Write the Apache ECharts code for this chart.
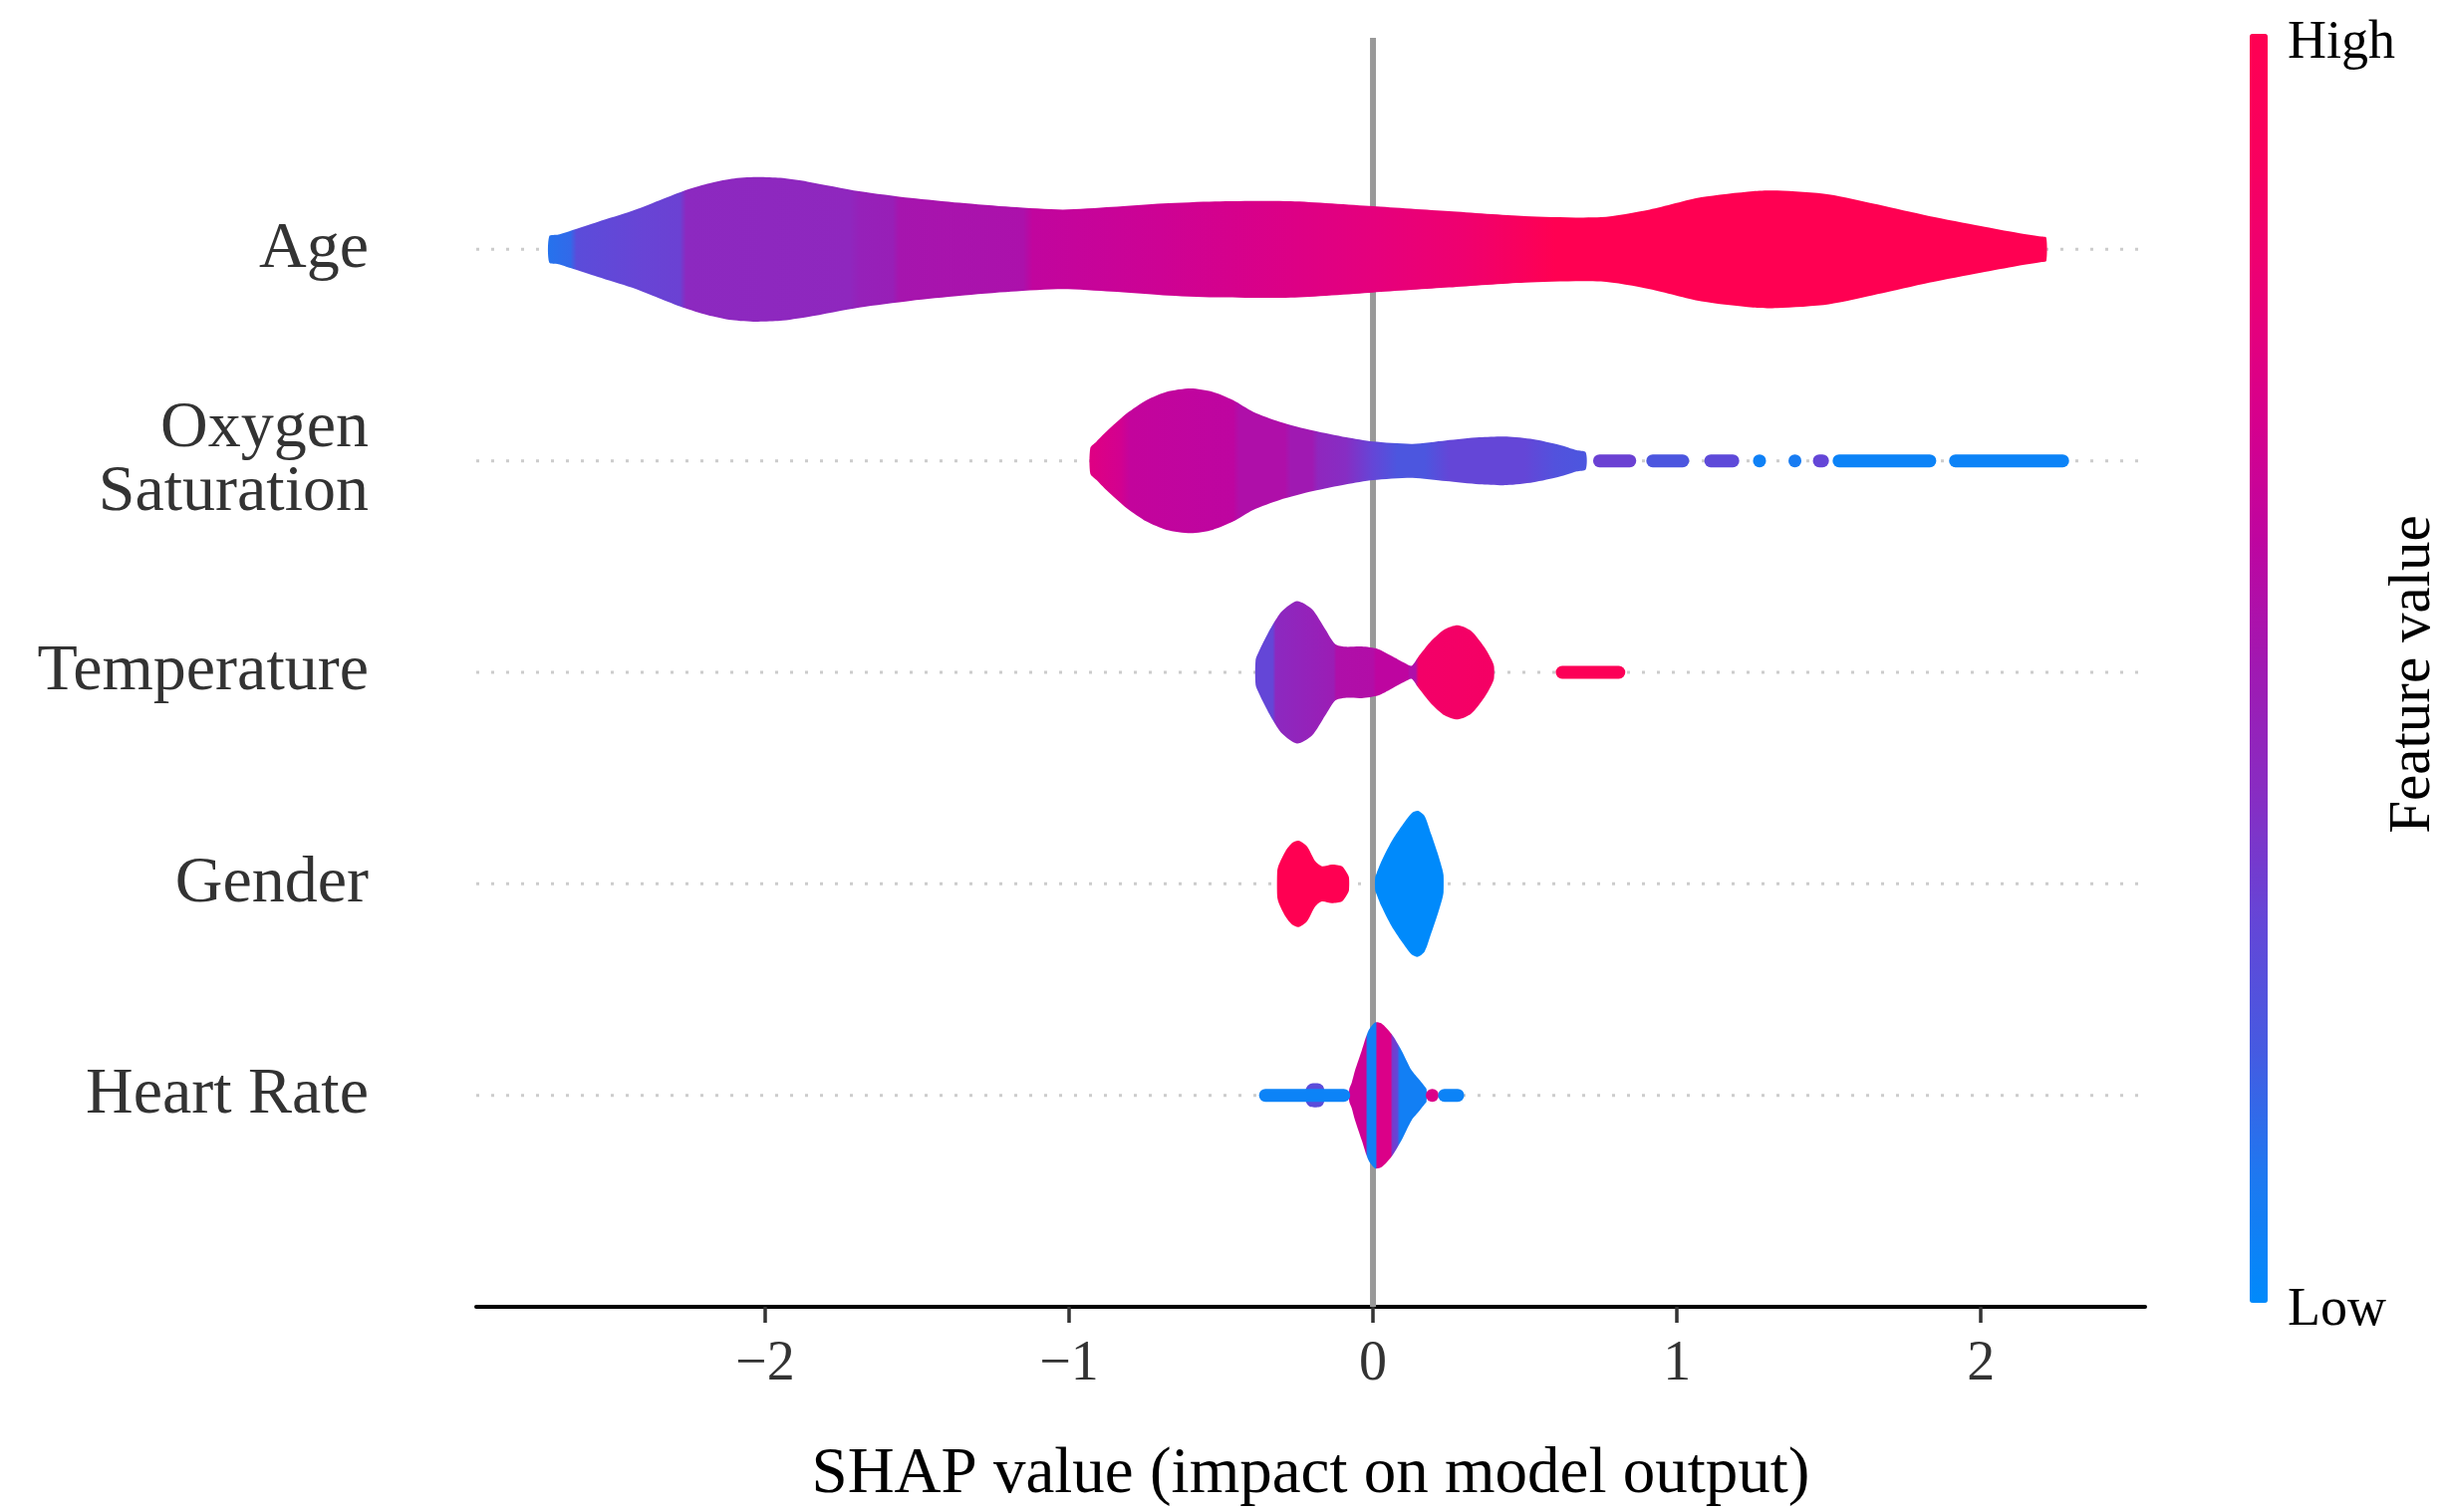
<!DOCTYPE html>
<html>
<head>
<meta charset="utf-8">
<script src="https://cdn.jsdelivr.net/npm/echarts/dist/echarts.min.js"></script>
<style>
  html, body { margin: 0; padding: 0; background: #ffffff; }
  #chart { width: 2455px; height: 1518px; }
</style>
</head>
<body>
<div id="chart"></div>
<script>
// ---------------- data ----------------
// features, bottom (row 0) to top (row 4)
const featureNames = ['Heart Rate', 'Gender', 'Temperature', 'Oxygen\nSaturation', 'Age'];
const xTicks = [-2, -1, 0, 1, 2];
const xMin = -2.95, xMax = 2.54;

// colour scale (feature value low -> high)
const colorStops = ['#008afb', '#1e78f0', '#465ae1', '#6446d7', '#872dc3', '#a019b2',
                    '#be05a0', '#d7008c', '#eb0076', '#f8005f', '#ff0052'];

// Age (row 4): SHAP values, violin half-widths, colour samples
const ageX = [-2.71, -2.68, -2.64, -2.55, -2.44, -2.35, -2.27, -2.19, -2.11, -2.03, -1.95, -1.86, -1.69,
              -1.52, -1.36, -1.19, -1.02, -0.86, -0.69, -0.52, -0.27, 0, 0.25, 0.5, 0.75, 0.91, 1.08,
              1.25, 1.33, 1.5, 1.66, 1.83, 2.0, 2.12, 2.2, 2.215];
const ageW = [0.062, 0.07, 0.088, 0.13, 0.18, 0.23, 0.275, 0.31, 0.334, 0.342, 0.338, 0.32, 0.275,
              0.243, 0.22, 0.2, 0.188, 0.2, 0.217, 0.227, 0.228, 0.204, 0.18, 0.157, 0.152, 0.188, 0.246,
              0.275, 0.278, 0.26, 0.212, 0.157, 0.11, 0.078, 0.06, 0.055];
const ageCX = [-2.71, -2.64, -2.62, -2.40, -2.28, -2.26, -1.72, -1.69, -1.58, -1.56, -1.15, -1.12,
               -0.70, -0.25, 0, 0.3, 0.5, 0.6, 2.22];
const ageCV = [0.12, 0.15, 0.27, 0.31, 0.32, 0.42, 0.43, 0.46, 0.47, 0.52, 0.54, 0.61,
               0.66, 0.73, 0.77, 0.83, 0.92, 1.0, 1.0];

// Oxygen Saturation (row 3)
const oxyX = [-0.93, -0.91, -0.877, -0.81, -0.745, -0.68, -0.60, -0.527, -0.46, -0.394, -0.307, -0.197,
              -0.088, 0, 0.13, 0.24, 0.35, 0.44, 0.527, 0.614, 0.67, 0.70];
const oxyW = [0.06, 0.09, 0.138, 0.224, 0.287, 0.326, 0.342, 0.326, 0.287, 0.232, 0.185, 0.143,
              0.111, 0.091, 0.08, 0.096, 0.111, 0.115, 0.102, 0.075, 0.05, 0.04];
const oxyCX = [-0.93, -0.83, -0.80, -0.46, -0.44, -0.29, -0.27, -0.20, -0.18, -0.09, 0, 0.08, 0.17,
               0.25, 0.5, 0.6, 0.70];
const oxyCV = [0.74, 0.68, 0.62, 0.6, 0.55, 0.55, 0.5, 0.5, 0.43, 0.4, 0.3, 0.22, 0.22,
               0.3, 0.3, 0.24, 0.22];
// sparse points drawn as dot runs: [start, end, colour value]
const oxyTail = [[0.724, 0.866, 0.32], [0.899, 1.04, 0.22], [1.09, 1.205, 0.28], [1.25, 1.293, 0.05],
                 [1.376, 1.40, 0.08], [1.447, 1.50, 0.3], [1.512, 1.853, 0.04], [1.895, 2.29, 0.04]];

// Temperature (row 2)
const tempX = [-0.386, -0.375, -0.364, -0.332, -0.299, -0.25, -0.20, -0.157, -0.124, -0.092, -0.037,
               0.017, 0.061, 0.105, 0.127, 0.148, 0.192, 0.236, 0.279, 0.323, 0.367, 0.39, 0.398];
const tempW = [0.06, 0.1, 0.133, 0.22, 0.29, 0.337, 0.298, 0.204, 0.133, 0.121, 0.122,
               0.11, 0.078, 0.044, 0.031, 0.071, 0.149, 0.204, 0.223, 0.196, 0.118, 0.06, 0.03];
const tempCX = [-0.386, -0.33, -0.32, -0.13, -0.12, 0.0, 0.01, 0.115, 0.12, 0.14, 0.15, 0.40];
const tempCV = [0.3, 0.3, 0.42, 0.48, 0.55, 0.56, 0.6, 0.6, 0.55, 0.55, 0.86, 0.88];
const tempTail = [[0.601, 0.830, 0.96]];

// Gender (row 1): two separate groups
const genRX = [-0.315, -0.31, -0.288, -0.266, -0.245, -0.217, -0.19, -0.168, -0.135, -0.102, -0.085, -0.079];
const genRW = [0.06, 0.09, 0.154, 0.193, 0.204, 0.177, 0.107, 0.083, 0.091, 0.083, 0.05, 0.03];
const genRCX = [-0.315, -0.079];
const genRCV = [1.0, 1.0];
const genBX = [0.007, 0.012, 0.028, 0.061, 0.094, 0.127, 0.148, 0.17, 0.192, 0.214, 0.228, 0.232];
const genBW = [0.03, 0.05, 0.107, 0.2, 0.272, 0.334, 0.345, 0.32, 0.232, 0.138, 0.07, 0.04];
const genBCX = [0.007, 0.232];
const genBCV = [0.0, 0.0];

// Heart Rate (row 0)
const hrX = [-0.078, -0.07, -0.059, -0.037, -0.015, 0.007, 0.028, 0.061, 0.094, 0.127, 0.154, 0.17, 0.176];
const hrW = [0.03, 0.06, 0.118, 0.212, 0.306, 0.345, 0.34, 0.29, 0.212, 0.118, 0.071, 0.042, 0.03];
const hrCX = [-0.078, -0.024, -0.018, 0.008, 0.014, 0.058, 0.064, 0.08, 0.088, 0.176];
const hrCV = [0.66, 0.66, 0.06, 0.06, 0.72, 0.72, 0.35, 0.3, 0.06, 0.06];
const hrBlobX = [-0.222, -0.215, -0.205, -0.19, -0.175, -0.165, -0.16];
const hrBlobW = [0.025, 0.045, 0.055, 0.057, 0.055, 0.045, 0.025];
const hrBlobCX = [-0.222, -0.16];
const hrBlobCV = [0.27, 0.27];
const hrTail = [[-0.375, -0.075, 0.04], [0.176, 0.214, 0.72], [0.214, 0.30, 0.04]];

// ---------------- build ----------------
const violins = [
  { row: 4, x: ageX, w: ageW, cx: ageCX, cv: ageCV },
  { row: 3, x: oxyX, w: oxyW, cx: oxyCX, cv: oxyCV },
  { row: 2, x: tempX, w: tempW, cx: tempCX, cv: tempCV },
  { row: 1, x: genRX, w: genRW, cx: genRCX, cv: genRCV },
  { row: 1, x: genBX, w: genBW, cx: genBCX, cv: genBCV },
  { row: 0, x: hrX, w: hrW, cx: hrCX, cv: hrCV },
  { row: 0, x: hrBlobX, w: hrBlobW, cx: hrBlobCX, cv: hrBlobCV }
];
const tails = [];
oxyTail.forEach(t => tails.push([t[0], t[1], 3, t[2]]));
tempTail.forEach(t => tails.push([t[0], t[1], 2, t[2]]));
hrTail.forEach(t => tails.push([t[0], t[1], 0, t[2]]));

function hexToRgb(h) {
  return [parseInt(h.slice(1, 3), 16), parseInt(h.slice(3, 5), 16), parseInt(h.slice(5, 7), 16)];
}
const stopRgb = colorStops.map(hexToRgb);
function colorFor(v) {
  v = Math.max(0, Math.min(1, v));
  const p = v * (stopRgb.length - 1);
  const i = Math.min(Math.floor(p), stopRgb.length - 2);
  const f = p - i;
  const a = stopRgb[i], b = stopRgb[i + 1];
  const c = [0, 1, 2].map(k => Math.round(a[k] + (b[k] - a[k]) * f));
  return 'rgb(' + c.join(',') + ')';
}

const FONT = '"Liberation Serif", "DejaVu Serif", serif';
const TAIL_W = 13;

function renderViolin(params, api) {
  const comp = violins[api.value(2)];
  const top = [], bot = [];
  for (let i = 0; i < comp.x.length; i++) {
    top.push(api.coord([comp.x[i], comp.row + comp.w[i]]));
    bot.push(api.coord([comp.x[i], comp.row - comp.w[i]]));
  }
  const points = top.concat(bot.reverse());
  const p0 = api.coord([comp.cx[0], comp.row])[0];
  const p1 = api.coord([comp.cx[comp.cx.length - 1], comp.row])[0];
  const span = Math.max(1e-6, p1 - p0);
  const stops = comp.cx.map((x, i) => ({
    offset: Math.max(0, Math.min(1, (api.coord([x, comp.row])[0] - p0) / span)),
    color: colorFor(comp.cv[i])
  }));
  return {
    type: 'polygon',
    shape: { points: points, smooth: 0.25 },
    style: { fill: new echarts.graphic.LinearGradient(p0, 0, p1, 0, stops, true), stroke: null }
  };
}

function renderTail(params, api) {
  const a = api.coord([api.value(0), api.value(2)]);
  const b = api.coord([api.value(1), api.value(2)]);
  const r = TAIL_W / 2;
  let x1 = a[0] + r, x2 = b[0] - r;
  if (x2 <= x1) { const m = (a[0] + b[0]) / 2; x1 = m - 0.01; x2 = m + 0.01; }
  return {
    type: 'line',
    shape: { x1: x1, y1: a[1], x2: x2, y2: a[1] },
    style: { stroke: colorFor(api.value(3)), lineWidth: TAIL_W, lineCap: 'round' }
  };
}

function renderGuide(params, api) {
  const row = api.value(1);
  const a = api.coord([xMin, row]);
  const b = api.coord([xMax, row]);
  return {
    type: 'line',
    shape: { x1: a[0], y1: a[1], x2: b[0], y2: b[1] },
    style: { stroke: '#cccccc', lineWidth: 3, lineDash: [3, 12] }
  };
}

function renderZero(params, api) {
  const a = api.coord([0, -1]);
  const b = api.coord([0, 5]);
  return {
    type: 'line',
    shape: { x1: a[0], y1: a[1], x2: b[0], y2: b[1] },
    style: { stroke: '#999999', lineWidth: 6 }
  };
}

const chart = echarts.init(document.getElementById('chart'), null, { renderer: 'canvas' });
chart.setOption({
  animation: false,
  backgroundColor: '#ffffff',
  grid: { left: 478, right: 302, top: 38, bottom: 206, containLabel: false },
  xAxis: {
    type: 'value', min: xMin, max: xMax,
    axisLine: { show: true, onZero: false, lineStyle: { color: '#000000', width: 4 } },
    axisTick: { show: true, customValues: xTicks, length: 16, lineStyle: { color: '#333333', width: 3.5 } },
    axisLabel: {
      customValues: xTicks, margin: 30, color: '#333333', fontFamily: FONT, fontSize: 56,
      formatter: v => String(v).replace('-', '\u2212')
    },
    splitLine: { show: false },
    name: 'SHAP value (impact on model output)',
    nameLocation: 'middle', nameGap: 136,
    nameTextStyle: { color: '#000000', fontFamily: FONT, fontSize: 65 }
  },
  yAxis: {
    type: 'value', min: -1, max: 5, interval: 1,
    axisLine: { show: false }, axisTick: { show: false }, splitLine: { show: false },
    axisLabel: {
      margin: 108, color: '#333333', fontFamily: FONT, fontSize: 66, lineHeight: 64,
      padding: [8, 0, 0, 0],
      formatter: v => (v >= 0 && v < featureNames.length) ? featureNames[v] : ''
    }
  },
  visualMap: {
    type: 'continuous', min: 0, max: 1, orient: 'vertical',
    left: 2258, top: 34, itemWidth: 18, itemHeight: 1274, padding: 0,
    calculable: false, hoverLink: false, seriesIndex: 4, dimension: 0,
    inRange: { color: colorStops }
  },
  graphic: [
    { type: 'text', left: 2296, top: 17, style: { text: 'High', fill: '#000', font: '54px ' + FONT } },
    { type: 'text', left: 2296, top: 1289, style: { text: 'Low', fill: '#000', font: '54px ' + FONT } },
    { type: 'text', x: 2422, y: 677, rotation: Math.PI / 2,
      style: { text: 'Feature value', fill: '#000', font: '59px ' + FONT, align: 'center', verticalAlign: 'middle' } }
  ],
  series: [
    { type: 'custom', name: 'guides', z: 1, silent: true, renderItem: renderGuide,
      data: featureNames.map((n, i) => [xMin, i]), encode: { x: 0, y: 1 } },
    { type: 'custom', name: 'zero', z: 1, silent: true, renderItem: renderZero,
      data: [[0, -1]], encode: { x: 0, y: 1 } },
    { type: 'custom', name: 'violins', z: 3, silent: true, renderItem: renderViolin,
      data: violins.map((v, i) => [v.x[0], v.row, i]), encode: { x: 0, y: 1 } },
    { type: 'custom', name: 'tails', z: 3, silent: true, renderItem: renderTail,
      data: tails, encode: { x: [0, 1], y: 2 } },
    { type: 'scatter', name: 'colorbar', data: [], silent: true }
  ]
});
</script>
</body>
</html>
